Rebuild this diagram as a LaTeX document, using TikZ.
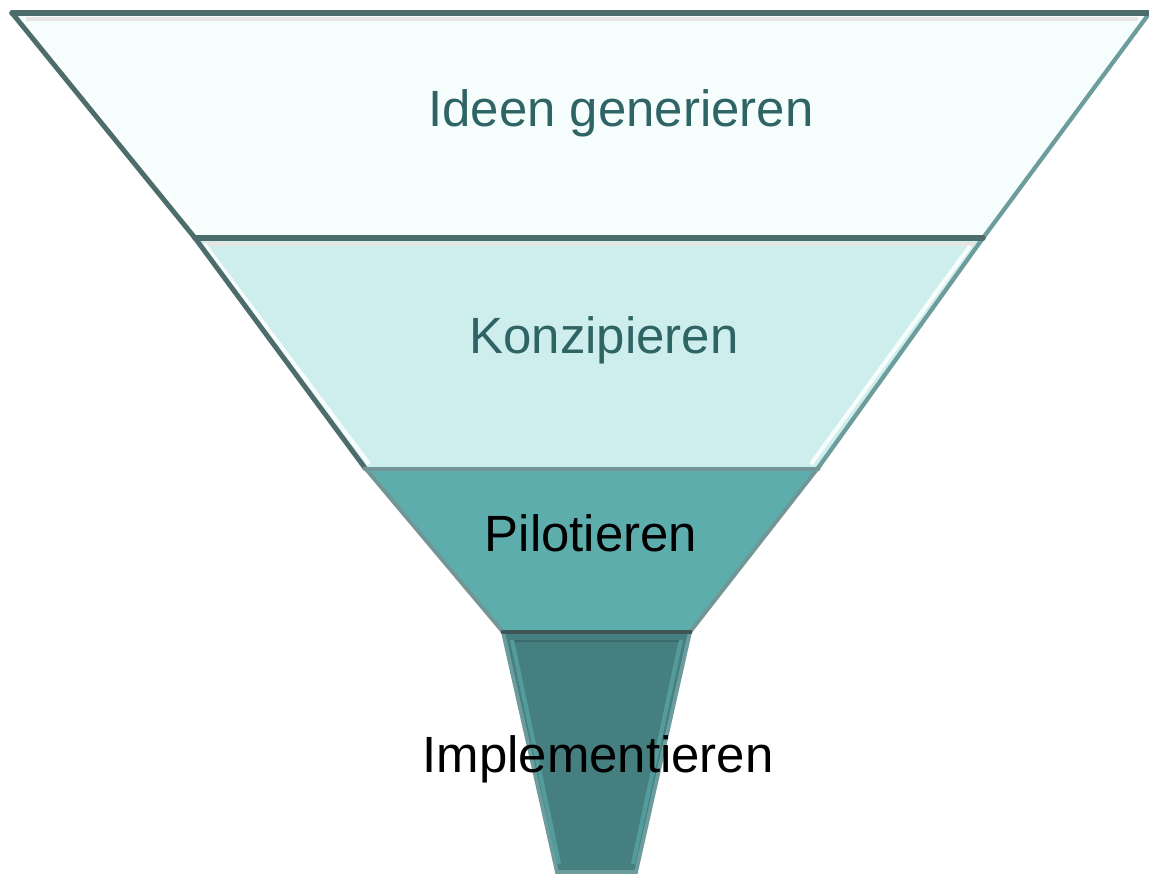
\documentclass[tikz,border=0pt]{standalone}
\usepackage{fontspec}
\setmainfont{Liberation Sans}
\usetikzlibrary{positioning, calc}

\definecolor{ideafill}{HTML}{F5FDFD}
\definecolor{conceptfill}{HTML}{CEEDED}
\definecolor{pilotfill}{HTML}{5EADAD}
\definecolor{implfill}{HTML}{467F7F}
\definecolor{rimdark}{HTML}{4D6C6C}
\definecolor{rimteal}{HTML}{6C9C9C}
\definecolor{rimgrey}{HTML}{729696}
\definecolor{labelteal}{HTML}{2F6464}

\tikzset{
  stagetext/.style={font=\fontsize{29}{34}\selectfont, anchor=base},
  rim/.style={line width=2.8pt, line cap=round},
  glint/.style={line width=2.4pt, white, opacity=0.85}
}

\begin{document}
\begin{tikzpicture}[x=0.02cm, y=-0.02cm]
\useasboundingbox (0,0) rectangle (1149,875);

% Ideen generieren layer
\fill[ideafill] (12,13) -- (1148,13) -- (983,238) -- (195,238) -- cycle;
\draw[line width=2pt, black!10] (26,19) -- (1138,19);
\draw[glint] (20,20) -- (198,234);
\draw[rim, rimdark] (12,13) -- (195,238);
\draw[rim, rimteal, line width=2.4pt] (1148,15) -- (983,238);
\draw[rim, rimdark, line width=3.2pt] (12,13) -- (1148,13);
\node[stagetext, text=labelteal] (ideas) at (621,127) {Ideen generieren};

% Konzipieren layer
\fill[conceptfill] (195,238) -- (983,238) -- (818,468) -- (365,468) -- cycle;
\draw[line width=2pt, black!10] (205,244) -- (975,244);
\draw[glint] (970,246) -- (811,464);
\draw[glint] (204,244) -- (369,464);
\draw[rim, rimdark] (195,238) -- (365,468);
\draw[rim, rimteal, line width=2.4pt] (983,238) -- (818,468);
\draw[rim, rimdark, line width=3.2pt] (195,238) -- (983,238);
\node[stagetext, text=labelteal] (concept) at (604,353) {Konzipieren};

% Pilotieren layer
\fill[pilotfill] (365,468) -- (818,468) -- (690,632) -- (503,632) -- cycle;
\draw[rim, rimgrey, line width=2.2pt] (365,468) -- (503,632);
\draw[rim, rimgrey, line width=2.2pt] (818,468) -- (690,632);
\draw[rim, rimgrey, line width=2.8pt] (365,469) -- (818,469);
\node[stagetext] (pilot) at (591,551) {Pilotieren};

% Implementieren neck
\fill[implfill] (503,632) -- (690,632) -- (636,872) -- (557,872) -- cycle;
\draw[pilotfill!60!implfill, line width=2.4pt] (512,640) -- (559,864);
\draw[pilotfill!60!implfill, line width=2.4pt] (681,640) -- (633,864);
\draw[implfill!85!black, line width=1.2pt] (514,641) -- (679,641);
\draw[rim, rimteal, line width=2.2pt] (503,632) -- (557,872) -- (636,872) -- (690,632);
\draw[rim, rimdark!80!black, line width=2.8pt] (503,632) -- (690,632);
\node[stagetext] (impl) at (598,772) {Implementieren};
\end{tikzpicture}
\end{document}
